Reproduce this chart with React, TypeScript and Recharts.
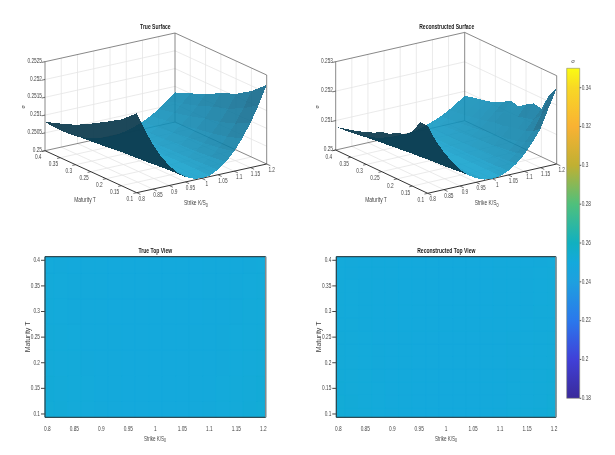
import React from 'react';
import { ScatterChart, Scatter, XAxis, YAxis, ReferenceArea } from 'recharts';

// ---------- data ----------
const strikes = [0.8, 0.825, 0.85, 0.875, 0.9, 0.925, 0.95, 0.975, 1, 1.025, 1.05, 1.075, 1.1, 1.125, 1.15, 1.175, 1.2];
const trueMaturities = [0.1, 0.15, 0.2, 0.25, 0.3, 0.35, 0.4];
const reconMaturities = [0.1, 0.125, 0.15, 0.175, 0.2, 0.225, 0.25, 0.275, 0.3, 0.325, 0.35, 0.375, 0.4];
const strikeTicks = [0.8, 0.85, 0.9, 0.95, 1, 1.05, 1.1, 1.15, 1.2];
const maturityTicks = [0.1, 0.15, 0.2, 0.25, 0.3, 0.35, 0.4];
const trueSigmaTicks = [0.25, 0.2505, 0.251, 0.2515, 0.252, 0.2525];
const reconSigmaTicks = [0.25, 0.251, 0.252, 0.253];
const colorbarTicks = [0.18, 0.2, 0.22, 0.24, 0.26, 0.28, 0.3, 0.32, 0.34];
const sigmaBase = 0.25;
const sigmaUnit = 1e-5;
// implied vol above 0.25, in units of 1e-5: one row per maturity, one column per strike
const trueSigma = [
  [223, 171, 125, 87, 56, 31, 14, 4, 0, 3, 14, 31, 56, 87, 125, 170, 222],
  [186, 142, 105, 73, 47, 26, 12, 3, 0, 3, 12, 26, 46, 72, 104, 142, 185],
  [160, 122, 90, 62, 40, 22, 10, 2, 0, 3, 10, 22, 40, 62, 89, 121, 158],
  [135, 103, 76, 53, 34, 19, 8, 2, 0, 2, 9, 20, 35, 55, 79, 107, 140],
  [112, 86, 63, 44, 28, 16, 7, 2, 0, 2, 7, 17, 30, 46, 66, 90, 118],
  [96, 74, 54, 38, 24, 14, 6, 2, 0, 2, 6, 14, 25, 39, 56, 77, 100],
  [81, 62, 46, 32, 20, 11, 5, 1, 0, 1, 5, 12, 21, 32, 47, 64, 83],
];
const reconSigma = [
  [230, 172, 128, 89, 56, 31, 14, 3, 0, 3, 14, 32, 58, 92, 132, 196, 257],
  [229, 168, 118, 82, 53, 29, 13, 4, 1, 3, 13, 29, 50, 80, 112, 160, 222],
  [185, 140, 103, 72, 47, 26, 11, 3, 0, 3, 11, 27, 46, 72, 100, 132, 163],
  [164, 128, 94, 65, 42, 23, 11, 3, 1, 3, 10, 23, 42, 66, 95, 126, 169],
  [157, 117, 87, 61, 39, 22, 10, 3, 0, 2, 10, 22, 39, 62, 90, 118, 153],
  [140, 109, 80, 56, 36, 20, 9, 2, 1, 3, 9, 21, 37, 58, 82, 112, 135],
  [136, 100, 74, 52, 34, 19, 8, 3, 0, 2, 9, 20, 35, 55, 80, 108, 142],
  [120, 95, 68, 47, 31, 17, 8, 2, 1, 2, 8, 18, 32, 50, 72, 98, 125],
  [111, 87, 64, 44, 28, 16, 7, 2, 0, 2, 7, 17, 30, 46, 67, 90, 112],
  [100, 80, 59, 41, 26, 15, 7, 2, 1, 2, 7, 16, 28, 43, 62, 82, 103],
  [93, 74, 54, 38, 24, 14, 6, 2, 0, 2, 6, 15, 26, 40, 57, 78, 97],
  [86, 68, 50, 35, 22, 13, 6, 1, 0, 1, 6, 14, 24, 37, 54, 72, 92],
  [79, 62, 46, 32, 20, 11, 5, 1, 0, 1, 5, 12, 22, 33, 48, 66, 84],
];
const colorStops: [number, string][] = [
  [0.18, '#3a2a9a'], [0.2, '#4040d8'], [0.22, '#2a78ec'], [0.24, '#1ea0df'], [0.25, '#14a9dc'],
  [0.26, '#11b0c0'], [0.28, '#4fc07c'], [0.3, '#c0b032'], [0.32, '#f9b233'], [0.34, '#f8d825'], [0.35, '#fbfb12'],
];

// ---------- helpers ----------
const FONT = "'Liberation Sans',Arial,sans-serif";
const TEXT = '#444';
const hex = (c: string) => [1, 3, 5].map((i) => parseInt(c.slice(i, i + 2), 16));
const mix = (a: string, b: string, t: number) => {
  const A = hex(a), B = hex(b);
  return `rgb(${A.map((v, i) => Math.round(v + (B[i] - v) * t)).join(',')})`;
};
const colormap = (v: number) => {
  for (let i = 1; i < colorStops.length; i++) {
    if (v <= colorStops[i][0]) {
      const [a, ca] = colorStops[i - 1];
      const [b, cb] = colorStops[i];
      return mix(ca, cb, (v - a) / (b - a));
    }
  }
  return colorStops[colorStops.length - 1][1];
};
const fmt = (v: number) => String(Number(v.toFixed(4)));
const toSigma = (rows: number[][]) => rows.map((r) => r.map((v) => sigmaBase + v * sigmaUnit));

const Empty = () => <g />;
const Patch = (p: any) => {
  const { cx, cy, payload: d } = p;
  return (
    <polygon
      points={d.poly.map(([a, b]: number[]) => `${cx + a},${cy + b}`).join(' ')}
      fill={d.fill}
      fillOpacity={d.alpha}
      shapeRendering="crispEdges"
    />
  );
};
const Tag = (p: any) => {
  const { cx, cy, payload: d } = p;
  return (
    <text
      textAnchor={d.anchor || 'middle'}
      dominantBaseline="middle"
      fontFamily={FONT}
      fontSize={d.size || 7}
      fontWeight={d.bold ? 700 : 400}
      fill={d.color || TEXT}
      transform={`translate(${cx} ${cy}) rotate(${d.rotate || 0}) scale(${d.sx || 0.68} 1)`}
    >
      <tspan>{d.text}</tspan>
      {d.sub ? <tspan dy={2.5} fontSize={5.5}>{d.sub}</tspan> : null}
    </text>
  );
};
const NarrowTick = (p: any) => {
  const { x, y, payload, textAnchor } = p;
  return (
    <text
      textAnchor={textAnchor}
      dominantBaseline="middle"
      fontFamily={FONT}
      fontSize={7}
      fill={TEXT}
      transform={`translate(${x} ${y}) scale(0.68 1)`}
    >
      {fmt(payload.value)}
    </text>
  );
};

type Frame = {
  title: string; w: number; ox: number; front: number[]; left: number[]; right: number[]; h: number;
  zMin: number; zMax: number; zTicks: number[]; rows: number[][]; mats: number[];
  matPos: number[]; strikePos: number[]; titlePos: number[]; sigmaPos: number[]; zLabelX: number;
};

function Surface3D({ f }: { f: Frame }) {
  const project = (K: number, T: number, z: number) => {
    const u = (K - 0.8) / 0.4, v = (T - 0.1) / 0.3, w = (z - f.zMin) / (f.zMax - f.zMin);
    return {
      px: f.front[0] + u * (f.right[0] - f.front[0]) + v * (f.left[0] - f.front[0]) - f.ox,
      py: f.front[1] + u * (f.right[1] - f.front[1]) + v * (f.left[1] - f.front[1]) - w * f.h,
    };
  };
  const seg = (a: number[], b: number[]) => [project(a[0], a[1], a[2]), project(b[0], b[1], b[2])];
  const { zMin: z0, zMax: z1 } = f;
  const grid: any[] = [];
  strikeTicks.slice(1, -1).forEach((K) => {
    grid.push(seg([K, 0.1, z0], [K, 0.4, z0]), seg([K, 0.4, z0], [K, 0.4, z1]));
  });
  maturityTicks.slice(1, -1).forEach((T) => {
    grid.push(seg([0.8, T, z0], [1.2, T, z0]), seg([1.2, T, z0], [1.2, T, z1]));
  });
  f.zTicks.slice(1, -1).forEach((z) => {
    grid.push(seg([0.8, 0.4, z], [1.2, 0.4, z]), seg([1.2, 0.4, z], [1.2, 0.1, z]));
  });
  const box = [
    seg([0.8, 0.4, z0], [0.8, 0.4, z1]), seg([1.2, 0.4, z0], [1.2, 0.4, z1]), seg([1.2, 0.1, z0], [1.2, 0.1, z1]),
    seg([0.8, 0.4, z1], [1.2, 0.4, z1]), seg([1.2, 0.4, z1], [1.2, 0.1, z1]),
    seg([0.8, 0.4, z0], [1.2, 0.4, z0]), seg([1.2, 0.4, z0], [1.2, 0.1, z0]),
  ];
  const floorFront = [seg([0.8, 0.4, z0], [0.8, 0.1, z0]), seg([0.8, 0.1, z0], [1.2, 0.1, z0])];
  const marks: any[] = [];
  strikeTicks.forEach((K) => marks.push(seg([K, 0.1, z0], [K, 0.088, z0])));
  maturityTicks.forEach((T) => marks.push(seg([0.8, T, z0], [0.79, T, z0])));
  f.zTicks.forEach((z) => marks.push(seg([0.8, 0.4, z], [0.79, 0.4, z])));

  const sigma = toSigma(f.rows);
  const patches: any[] = [];
  for (let j = 0; j < f.mats.length - 1; j++) {
    for (let i = 0; i < strikes.length - 1; i++) {
      const cs = [[i, j], [i + 1, j], [i + 1, j + 1], [i, j + 1]].map(([a, b]) => project(strikes[a], f.mats[b], sigma[b][a]));
      const px = cs.reduce((s, c) => s + c.px, 0) / 4;
      const py = cs.reduce((s, c) => s + c.py, 0) / 4;
      let area = 0;
      cs.forEach((c, n) => { const d = cs[(n + 1) % 4]; area += c.px * d.py - d.px * c.py; });
      const span = f.zMax - f.zMin;
      const dwdu = ((sigma[j][i + 1] - sigma[j][i] + sigma[j + 1][i + 1] - sigma[j + 1][i]) / 2 / span) / ((strikes[i + 1] - strikes[i]) / 0.4);
      const t = Math.min(1, Math.abs(dwdu) / 3.6);
      const front = area < 0;
      const wAvg = (sigma[j][i] + sigma[j][i + 1] + sigma[j + 1][i] + sigma[j + 1][i + 1]) / 4;
      const u = (strikes[i] - 0.8) / 0.4, v = (f.mats[j] - 0.1) / 0.3, w = (wAvg - z0) / span;
      patches.push({
        px, py,
        poly: cs.map((c) => [c.px - px, c.py - py]),
        fill: front ? mix('#10a2cf', '#0a587a', t) : '#0c3a4e',
        alpha: front ? 0.88 : 0.93,
        depth: -0.5 * u - 0.7 * v + 0.5 * w,
      });
    }
  }
  patches.sort((a, b) => a.depth - b.depth);

  const tags: any[] = [];
  f.zTicks.forEach((z) => {
    const p = project(0.8, 0.4, z);
    tags.push({ px: f.zLabelX - f.ox, py: p.py - 1.2, text: fmt(z), anchor: 'end' });
  });
  maturityTicks.forEach((T) => {
    const p = project(0.8, T, z0);
    tags.push({ px: p.px - 6.8, py: p.py + 6.4, text: fmt(T) });
  });
  strikeTicks.forEach((K) => {
    const p = project(K, 0.1, z0);
    tags.push({ px: p.px + 5, py: p.py + 5.8, text: fmt(K) });
  });
  tags.push({ px: f.matPos[0] - f.ox, py: f.matPos[1], text: 'Maturity T', sx: 0.7 });
  tags.push({ px: f.strikePos[0] - f.ox, py: f.strikePos[1], text: 'Strike K/S', sub: '0', sx: 0.7 });
  tags.push({ px: f.titlePos[0] - f.ox, py: f.titlePos[1], text: f.title, bold: true, color: '#222', sx: 0.72 });
  tags.push({ px: f.sigmaPos[0] - f.ox, py: f.sigmaPos[1], text: 'σ', size: 5.5, rotate: -90, sx: 1 });

  const line = (stroke: string, width: number) => ({ stroke, strokeWidth: width });
  return (
    <div style={{ position: 'absolute', left: f.ox, top: 0 }}>
      <ScatterChart width={f.w} height={225} margin={{ top: 0, right: 0, bottom: 0, left: 0 }}>
        <XAxis type="number" dataKey="px" domain={[0, f.w]} hide allowDataOverflow />
        <YAxis type="number" dataKey="py" domain={[0, 225]} reversed hide allowDataOverflow />
        {grid.map((d, i) => (
          <Scatter key={'g' + i} data={d} line={line('#e4e4e4', 0.8)} shape={Empty} isAnimationActive={false} />
        ))}
        {box.map((d, i) => (
          <Scatter key={'b' + i} data={d} line={line('#6a6a6a', 0.8)} shape={Empty} isAnimationActive={false} />
        ))}
        {floorFront.map((d, i) => (
          <Scatter key={'f' + i} data={d} line={line('#333', 1)} shape={Empty} isAnimationActive={false} />
        ))}
        {marks.map((d, i) => (
          <Scatter key={'m' + i} data={d} line={line('#333', 0.7)} shape={Empty} isAnimationActive={false} />
        ))}
        <Scatter data={patches} shape={Patch} isAnimationActive={false} />
        <Scatter data={tags} shape={Tag} isAnimationActive={false} />
      </ScatterChart>
    </div>
  );
}

type TopCfg = {
  title: string; ox: number; w: number; plotL: number; plotR: number; kDomain: number[];
  rows: number[][]; mats: number[];
};
const T_DOMAIN = [0.0935, 0.407];

function TopView({ c }: { c: TopCfg }) {
  const sigma = toSigma(c.rows);
  const bound = (arr: number[], i: number, dom: number[]) =>
    i < 0 ? dom[0] : i >= arr.length - 1 ? dom[1] : (arr[i] + arr[i + 1]) / 2;
  const cells: any[] = [];
  c.mats.forEach((_, j) => {
    strikes.forEach((__, i) => {
      cells.push({
        x1: bound(strikes, i - 1, c.kDomain), x2: bound(strikes, i, c.kDomain),
        y1: bound(c.mats, j - 1, T_DOMAIN), y2: bound(c.mats, j, T_DOMAIN),
        fill: colormap(sigma[j][i]),
      });
    });
  });
  return (
    <div style={{ position: 'absolute', left: c.ox, top: 240 }}>
      <ScatterChart
        width={c.w}
        height={215}
        margin={{ top: 11.7, right: c.w - (c.plotR - c.ox) - 5, bottom: 22.7, left: c.plotL - c.ox - 25 }}
      >
        <XAxis xAxisId="b" type="number" dataKey="px" orientation="bottom" domain={c.kDomain} ticks={strikeTicks} interval={0}
          height={15} tick={NarrowTick} tickLine={false} axisLine={{ stroke: '#333' }} tickMargin={6} allowDataOverflow />
        <XAxis xAxisId="t" type="number" dataKey="px" orientation="top" domain={c.kDomain} ticks={strikeTicks} interval={0}
          height={5} tick={false} tickSize={5.5} tickLine={{ stroke: '#444' }} axisLine={{ stroke: '#333' }} allowDataOverflow />
        <YAxis yAxisId="l" type="number" dataKey="py" orientation="left" domain={T_DOMAIN} ticks={maturityTicks} interval={0}
          width={25} tick={NarrowTick} tickSize={4} tickLine={{ stroke: '#444' }} tickMargin={1} axisLine={{ stroke: '#333' }} allowDataOverflow />
        <YAxis yAxisId="r" type="number" dataKey="py" orientation="right" domain={T_DOMAIN} ticks={maturityTicks} interval={0}
          width={5} tick={false} tickSize={3.5} tickLine={{ stroke: '#444' }} axisLine={{ stroke: '#888', strokeWidth: 1.5 }} allowDataOverflow />
        <ReferenceArea xAxisId="b" yAxisId="l" x1={c.kDomain[0]} x2={c.kDomain[1]} y1={T_DOMAIN[0]} y2={T_DOMAIN[1]} fill={colormap(0.2502)} fillOpacity={1} />
        {cells.map((d, i) => (
          <ReferenceArea key={i} xAxisId="b" yAxisId="l" x1={d.x1} x2={d.x2} y1={d.y1} y2={d.y2} fill={d.fill} fillOpacity={1} stroke={d.fill} strokeWidth={1} />
        ))}
      </ScatterChart>
    </div>
  );
}

// page-wide layer for the texts that lie outside the plot areas
const overlayTags = [
  { px: 155.3, py: 250.5, text: 'True Top View', bold: true, color: '#222', sx: 0.72 },
  { px: 155, py: 438.5, text: 'Strike K/S', sub: '0', sx: 0.65 },
  { px: 28, py: 337, text: 'Maturity T', size: 8, rotate: -90, sx: 0.87 },
  { px: 446.3, py: 250.5, text: 'Reconstructed Top View', bold: true, color: '#222', sx: 0.72 },
  { px: 446, py: 438.5, text: 'Strike K/S', sub: '0', sx: 0.65 },
  { px: 319, py: 337, text: 'Maturity T', size: 8, rotate: -90, sx: 0.87 },
  { px: 573, py: 61, text: 'σ', size: 6, sx: 1 },
];
function Overlay() {
  return (
    <div style={{ position: 'absolute', left: 0, top: 0, pointerEvents: 'none' }}>
      <ScatterChart width={615} height={455} margin={{ top: 0, right: 0, bottom: 0, left: 0 }}>
        <XAxis type="number" dataKey="px" domain={[0, 615]} hide allowDataOverflow />
        <YAxis type="number" dataKey="py" domain={[0, 455]} reversed hide allowDataOverflow />
        <Scatter data={overlayTags} shape={Tag} isAnimationActive={false} />
      </ScatterChart>
    </div>
  );
}

const frames: Frame[] = [
  {
    title: 'True Surface', w: 295, ox: 0, front: [136.7, 192.7], left: [45, 150.7], right: [266.7, 164], h: 89,
    zMin: 0.25, zMax: 0.2525, zTicks: trueSigmaTicks, rows: trueSigma, mats: trueMaturities,
    matPos: [85, 199.3], strikePos: [196, 203], titlePos: [155.3, 26.7], sigmaPos: [24, 106.7], zLabelX: 42,
  },
  {
    title: 'Reconstructed Surface', w: 320, ox: 295, front: [427.7, 193.3], left: [335.7, 150], right: [556.7, 164], h: 88.3,
    zMin: 0.25, zMax: 0.253, zTicks: reconSigmaTicks, rows: reconSigma, mats: reconMaturities,
    matPos: [376, 199.3], strikePos: [486.7, 203], titlePos: [446.7, 26.7], sigmaPos: [318.3, 106.7], zLabelX: 333,
  },
];
const tops: TopCfg[] = [
  { title: 'True Top View', ox: 0, w: 295, plotL: 45, plotR: 265.7, kDomain: [0.7957, 1.2044], rows: trueSigma, mats: trueMaturities },
  { title: 'Reconstructed Top View', ox: 295, w: 270, plotL: 336.3, plotR: 556, kDomain: [0.7963, 1.2037], rows: reconSigma, mats: reconMaturities },
];

function Colorbar() {
  const gradStops = [...colorStops].reverse().map(([v, c]) => ({ off: ((0.35 - v) / 0.17) * 100, c }));
  return (
    <div style={{ position: 'absolute', left: 555, top: 55 }}>
      <ScatterChart width={60} height={360} margin={{ top: 13.3, right: 5.3, bottom: 16.7, left: 11.7 }}>
        <defs>
          <linearGradient id="sigmaBar" x1="0" y1="0" x2="0" y2="1">
            {gradStops.map((s, i) => <stop key={i} offset={`${s.off}%`} stopColor={s.c} />)}
          </linearGradient>
        </defs>
        <XAxis type="number" dataKey="px" domain={[0, 1]} hide allowDataOverflow />
        <YAxis type="number" dataKey="py" orientation="right" domain={[0.18, 0.35]} ticks={colorbarTicks} interval={0}
          width={30} tick={NarrowTick} tickSize={1.5} tickMargin={0.5}
          axisLine={false} tickLine={{ stroke: '#555' }} allowDataOverflow />
        <ReferenceArea x1={0} x2={1} y1={0.18} y2={0.35} fill="url(#sigmaBar)" fillOpacity={1} stroke="#8a8a70" strokeWidth={0.6} />
      </ScatterChart>
    </div>
  );
}

export default function App() {
  return (
    <div style={{ position: 'fixed', left: 0, top: 0, width: 615, height: 455, background: '#fff', overflow: 'hidden', filter: 'blur(0.4px)' }}>
      {frames.map((f) => <Surface3D key={f.title} f={f} />)}
      {tops.map((c) => <TopView key={c.title} c={c} />)}
      <Colorbar />
      <Overlay />
    </div>
  );
}
